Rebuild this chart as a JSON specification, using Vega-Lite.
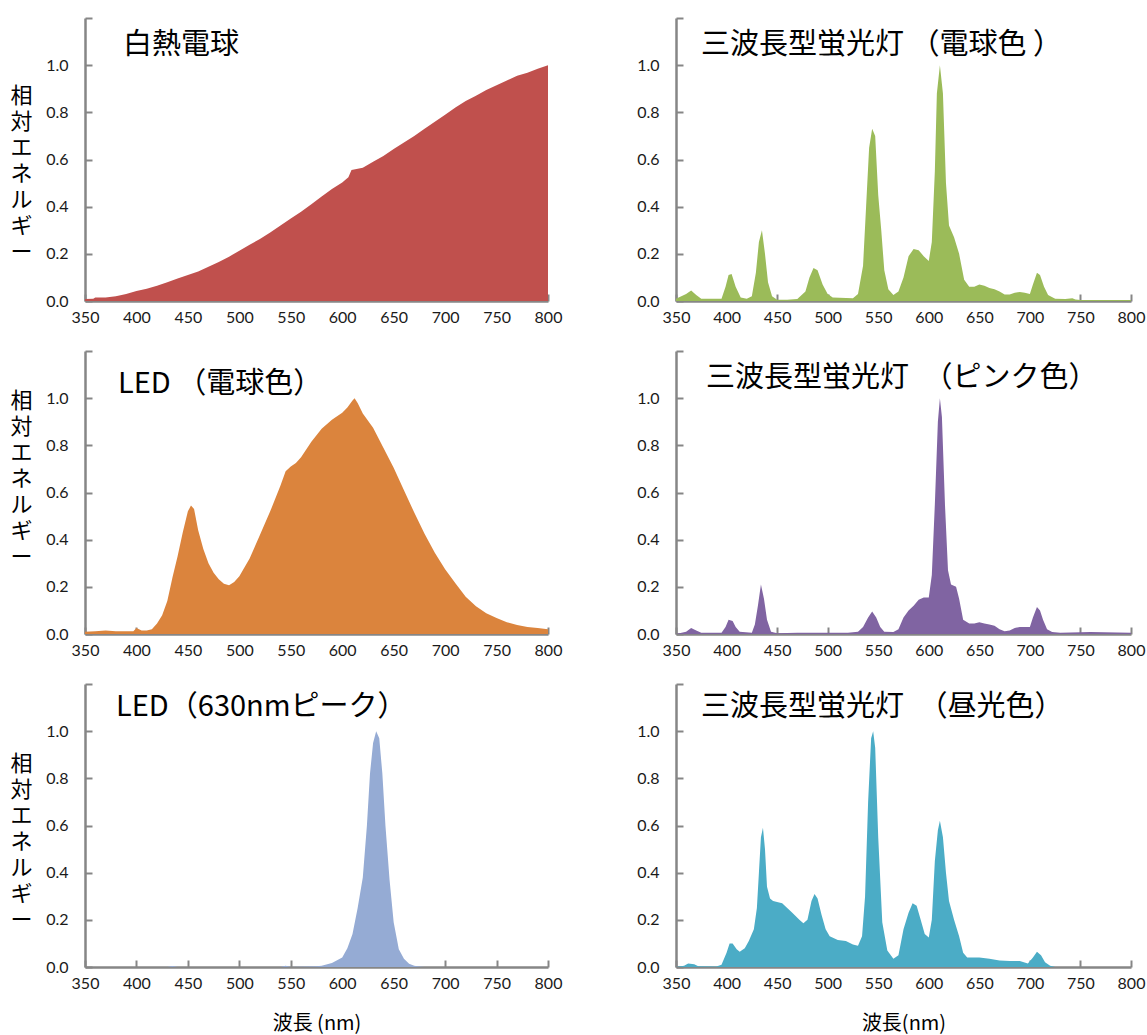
{
  "$schema": "https://vega.github.io/schema/vega-lite/v6.json",
  "padding": {"left": 9, "top": 17, "right": 2, "bottom": 5},
  "background": "white",
  "columns": 2,
  "spacing": {"row": 50, "column": 128},
  "bounds": "flush",
  "config": {
    "view": {"stroke": null},
    "axis": {
      "domainColor": "#868686", "domainWidth": 2.5,
      "tickColor": "#868686", "tickWidth": 2, "tickSize": -7,
      "grid": false, "labelFlush": false,
      "labelFont": "Lato", "labelFontSize": 16, "labelColor": "#1a1a1a",
      "titleFont": "Noto Sans CJK JP", "titleFontWeight": "normal", "titleColor": "#000000", "titleFontSize": 20
    },
    "title": {"font": "Noto Sans CJK JP", "fontWeight": "normal", "fontSize": 29, "color": "#000000", "anchor": "start", "frame": "group", "offset": 0, "baseline": "middle"}
  },
  "datasets": {
    "inc": [
      {"w":350,"v":0.008},{"w":358,"v":0.01},{"w":360,"v":0.015},{"w":370,"v":0.015},{"w":380,"v":0.02},{"w":390,"v":0.03},{"w":400,"v":0.042},{"w":410,"v":0.052},{"w":420,"v":0.065},{"w":430,"v":0.08},{"w":440,"v":0.095},{"w":450,"v":0.11},{"w":460,"v":0.125},{"w":470,"v":0.145},{"w":480,"v":0.165},{"w":490,"v":0.188},{"w":500,"v":0.213},{"w":510,"v":0.238},{"w":520,"v":0.263},{"w":530,"v":0.29},{"w":540,"v":0.32},{"w":550,"v":0.35},{"w":560,"v":0.378},{"w":570,"v":0.41},{"w":580,"v":0.443},{"w":590,"v":0.475},{"w":600,"v":0.503},{"w":606,"v":0.525},{"w":609,"v":0.555},{"w":620,"v":0.565},{"w":630,"v":0.59},{"w":640,"v":0.615},{"w":650,"v":0.645},{"w":660,"v":0.672},{"w":670,"v":0.7},{"w":680,"v":0.73},{"w":690,"v":0.76},{"w":700,"v":0.79},{"w":710,"v":0.82},{"w":720,"v":0.848},{"w":730,"v":0.87},{"w":740,"v":0.895},{"w":750,"v":0.915},{"w":760,"v":0.935},{"w":770,"v":0.955},{"w":780,"v":0.968},{"w":790,"v":0.985},{"w":800,"v":1.0}
    ],
    "fl_bulb": [
      {"w":350,"v":0.01},{"w":360,"v":0.03},{"w":365,"v":0.045},{"w":370,"v":0.025},{"w":375,"v":0.01},{"w":395,"v":0.01},{"w":399,"v":0.06},{"w":402,"v":0.11},{"w":405,"v":0.115},{"w":409,"v":0.06},{"w":414,"v":0.015},{"w":420,"v":0.01},{"w":425,"v":0.02},{"w":429,"v":0.12},{"w":432,"v":0.25},{"w":435,"v":0.3},{"w":438,"v":0.2},{"w":441,"v":0.08},{"w":445,"v":0.02},{"w":450,"v":0.005},{"w":460,"v":0.005},{"w":470,"v":0.008},{"w":478,"v":0.04},{"w":482,"v":0.1},{"w":486,"v":0.14},{"w":490,"v":0.13},{"w":495,"v":0.07},{"w":500,"v":0.03},{"w":505,"v":0.015},{"w":525,"v":0.012},{"w":530,"v":0.03},{"w":535,"v":0.15},{"w":538,"v":0.4},{"w":541,"v":0.65},{"w":544,"v":0.73},{"w":547,"v":0.7},{"w":550,"v":0.45},{"w":553,"v":0.3},{"w":556,"v":0.13},{"w":560,"v":0.05},{"w":565,"v":0.025},{"w":570,"v":0.04},{"w":575,"v":0.1},{"w":580,"v":0.19},{"w":585,"v":0.22},{"w":590,"v":0.215},{"w":595,"v":0.19},{"w":600,"v":0.17},{"w":603,"v":0.25},{"w":606,"v":0.55},{"w":608,"v":0.88},{"w":611,"v":1.0},{"w":614,"v":0.88},{"w":617,"v":0.5},{"w":620,"v":0.32},{"w":625,"v":0.27},{"w":630,"v":0.2},{"w":635,"v":0.09},{"w":640,"v":0.06},{"w":645,"v":0.06},{"w":650,"v":0.07},{"w":655,"v":0.065},{"w":660,"v":0.055},{"w":665,"v":0.05},{"w":670,"v":0.04},{"w":675,"v":0.028},{"w":680,"v":0.028},{"w":685,"v":0.035},{"w":690,"v":0.038},{"w":695,"v":0.035},{"w":700,"v":0.03},{"w":703,"v":0.07},{"w":707,"v":0.12},{"w":710,"v":0.11},{"w":714,"v":0.06},{"w":718,"v":0.025},{"w":725,"v":0.01},{"w":735,"v":0.008},{"w":742,"v":0.012},{"w":745,"v":0.006},{"w":750,"v":0.004},{"w":800,"v":0.004}
    ],
    "led_bulb": [
      {"w":350,"v":0.01},{"w":360,"v":0.012},{"w":370,"v":0.015},{"w":380,"v":0.012},{"w":390,"v":0.012},{"w":397,"v":0.012},{"w":400,"v":0.025},{"w":405,"v":0.015},{"w":410,"v":0.015},{"w":415,"v":0.02},{"w":420,"v":0.045},{"w":425,"v":0.08},{"w":430,"v":0.14},{"w":435,"v":0.24},{"w":440,"v":0.33},{"w":445,"v":0.43},{"w":450,"v":0.52},{"w":453,"v":0.545},{"w":456,"v":0.53},{"w":460,"v":0.44},{"w":465,"v":0.36},{"w":470,"v":0.3},{"w":475,"v":0.26},{"w":480,"v":0.232},{"w":485,"v":0.213},{"w":490,"v":0.207},{"w":495,"v":0.22},{"w":500,"v":0.245},{"w":510,"v":0.32},{"w":520,"v":0.42},{"w":530,"v":0.52},{"w":540,"v":0.63},{"w":545,"v":0.69},{"w":550,"v":0.71},{"w":555,"v":0.725},{"w":560,"v":0.75},{"w":570,"v":0.815},{"w":580,"v":0.87},{"w":590,"v":0.908},{"w":600,"v":0.938},{"w":605,"v":0.96},{"w":610,"v":0.99},{"w":612,"v":1.0},{"w":615,"v":0.98},{"w":620,"v":0.935},{"w":630,"v":0.875},{"w":640,"v":0.79},{"w":650,"v":0.705},{"w":660,"v":0.61},{"w":670,"v":0.515},{"w":680,"v":0.425},{"w":690,"v":0.345},{"w":700,"v":0.275},{"w":710,"v":0.215},{"w":720,"v":0.158},{"w":730,"v":0.118},{"w":740,"v":0.088},{"w":750,"v":0.068},{"w":760,"v":0.05},{"w":770,"v":0.038},{"w":780,"v":0.03},{"w":790,"v":0.025},{"w":800,"v":0.02}
    ],
    "fl_pink": [
      {"w":350,"v":0.0},{"w":360,"v":0.01},{"w":365,"v":0.025},{"w":370,"v":0.015},{"w":375,"v":0.005},{"w":395,"v":0.005},{"w":399,"v":0.03},{"w":402,"v":0.06},{"w":406,"v":0.055},{"w":409,"v":0.03},{"w":413,"v":0.01},{"w":425,"v":0.005},{"w":428,"v":0.04},{"w":431,"v":0.12},{"w":434,"v":0.21},{"w":437,"v":0.15},{"w":440,"v":0.06},{"w":444,"v":0.01},{"w":450,"v":0.003},{"w":470,"v":0.005},{"w":500,"v":0.005},{"w":520,"v":0.005},{"w":530,"v":0.01},{"w":535,"v":0.03},{"w":540,"v":0.07},{"w":544,"v":0.095},{"w":548,"v":0.07},{"w":552,"v":0.03},{"w":556,"v":0.01},{"w":565,"v":0.008},{"w":570,"v":0.02},{"w":575,"v":0.07},{"w":580,"v":0.1},{"w":585,"v":0.12},{"w":590,"v":0.145},{"w":595,"v":0.155},{"w":600,"v":0.155},{"w":603,"v":0.25},{"w":606,"v":0.55},{"w":609,"v":0.9},{"w":611,"v":1.0},{"w":613,"v":0.92},{"w":616,"v":0.55},{"w":619,"v":0.27},{"w":622,"v":0.21},{"w":627,"v":0.2},{"w":630,"v":0.15},{"w":634,"v":0.06},{"w":640,"v":0.045},{"w":645,"v":0.045},{"w":650,"v":0.05},{"w":655,"v":0.045},{"w":660,"v":0.04},{"w":665,"v":0.035},{"w":670,"v":0.02},{"w":675,"v":0.012},{"w":680,"v":0.015},{"w":685,"v":0.025},{"w":690,"v":0.03},{"w":695,"v":0.03},{"w":700,"v":0.03},{"w":703,"v":0.07},{"w":707,"v":0.115},{"w":710,"v":0.1},{"w":713,"v":0.06},{"w":717,"v":0.02},{"w":722,"v":0.008},{"w":730,"v":0.005},{"w":760,"v":0.008},{"w":800,"v":0.005}
    ],
    "led_630": [
      {"w":350,"v":0.0},{"w":430,"v":0.0},{"w":435,"v":0.004},{"w":440,"v":0.0},{"w":540,"v":0.0},{"w":545,"v":0.005},{"w":550,"v":0.0},{"w":575,"v":0.003},{"w":580,"v":0.005},{"w":590,"v":0.017},{"w":600,"v":0.04},{"w":605,"v":0.08},{"w":610,"v":0.14},{"w":615,"v":0.25},{"w":620,"v":0.38},{"w":624,"v":0.6},{"w":627,"v":0.82},{"w":630,"v":0.95},{"w":633,"v":1.0},{"w":636,"v":0.97},{"w":639,"v":0.82},{"w":642,"v":0.6},{"w":646,"v":0.37},{"w":650,"v":0.19},{"w":655,"v":0.075},{"w":660,"v":0.035},{"w":665,"v":0.014},{"w":670,"v":0.005},{"w":675,"v":0.002},{"w":680,"v":0.0},{"w":800,"v":0.0}
    ],
    "fl_day": [
      {"w":350,"v":0.0},{"w":358,"v":0.005},{"w":362,"v":0.015},{"w":368,"v":0.012},{"w":372,"v":0.003},{"w":390,"v":0.002},{"w":395,"v":0.01},{"w":400,"v":0.06},{"w":403,"v":0.1},{"w":406,"v":0.1},{"w":410,"v":0.075},{"w":413,"v":0.065},{"w":418,"v":0.08},{"w":422,"v":0.11},{"w":427,"v":0.16},{"w":430,"v":0.25},{"w":432,"v":0.4},{"w":434,"v":0.55},{"w":436,"v":0.59},{"w":438,"v":0.5},{"w":440,"v":0.34},{"w":443,"v":0.29},{"w":446,"v":0.28},{"w":455,"v":0.27},{"w":465,"v":0.23},{"w":472,"v":0.2},{"w":476,"v":0.185},{"w":480,"v":0.2},{"w":484,"v":0.28},{"w":487,"v":0.31},{"w":490,"v":0.29},{"w":494,"v":0.22},{"w":498,"v":0.16},{"w":502,"v":0.13},{"w":510,"v":0.115},{"w":518,"v":0.11},{"w":525,"v":0.095},{"w":530,"v":0.09},{"w":534,"v":0.13},{"w":537,"v":0.3},{"w":540,"v":0.7},{"w":543,"v":0.97},{"w":545,"v":1.0},{"w":547,"v":0.93},{"w":550,"v":0.55},{"w":554,"v":0.19},{"w":559,"v":0.07},{"w":565,"v":0.035},{"w":570,"v":0.05},{"w":575,"v":0.16},{"w":580,"v":0.23},{"w":584,"v":0.27},{"w":588,"v":0.26},{"w":592,"v":0.2},{"w":596,"v":0.14},{"w":600,"v":0.125},{"w":603,"v":0.2},{"w":606,"v":0.45},{"w":609,"v":0.58},{"w":611,"v":0.62},{"w":614,"v":0.55},{"w":617,"v":0.4},{"w":620,"v":0.28},{"w":625,"v":0.2},{"w":630,"v":0.13},{"w":634,"v":0.06},{"w":638,"v":0.04},{"w":650,"v":0.04},{"w":660,"v":0.035},{"w":670,"v":0.028},{"w":680,"v":0.025},{"w":690,"v":0.025},{"w":698,"v":0.015},{"w":703,"v":0.04},{"w":707,"v":0.065},{"w":711,"v":0.05},{"w":715,"v":0.02},{"w":720,"v":0.005},{"w":725,"v":0.0},{"w":800,"v":0.0}
    ]
  },
  "concat": [
    {
      "width": 463, "height": 283,
      "data": {"name": "inc"},
      "title": {"text": "白熱電球", "dx": 38, "dy": 47},
      "mark": {"type": "area", "color": "#C0504D"},
      "encoding": {
        "x": {"field": "w", "type": "quantitative", "scale": {"domain": [350, 800], "nice": false, "zero": false}, "axis": {"values": [350,400,450,500,550,600,650,700,750,800], "title": null, "labelPadding": 15}},
        "y": {"field": "v", "type": "quantitative", "scale": {"domain": [0, 1.2], "nice": false}, "axis": {"values": [0,0.2,0.4,0.6,0.8,1.0,1.2], "labelExpr": "datum.value > 1.1 ? '' : format(datum.value, '.1f')", "labelPadding": 24, "title": ["相","対","エ","ネ","ル","ギ","ー"], "titleAngle": 0, "titleAlign": "center", "titleBaseline": "middle", "titleFontSize": 22, "titleLineHeight": 26, "titleX": -64, "titleY": 77}}
      }
    },
    {
      "width": 455, "height": 283,
      "data": {"name": "fl_bulb"},
      "title": {"text": "三波長型蛍光灯 （電球色 ）", "dx": 25, "dy": 47},
      "mark": {"type": "area", "color": "#9BBB59"},
      "encoding": {
        "x": {"field": "w", "type": "quantitative", "scale": {"domain": [350, 800], "nice": false, "zero": false}, "axis": {"values": [350,400,450,500,550,600,650,700,750,800], "title": null, "labelPadding": 15}},
        "y": {"field": "v", "type": "quantitative", "scale": {"domain": [0, 1.2], "nice": false}, "axis": {"values": [0,0.2,0.4,0.6,0.8,1.0,1.2], "labelExpr": "datum.value > 1.1 ? '' : format(datum.value, '.1f')", "labelPadding": 24, "title": null}}
      }
    },
    {
      "width": 463, "height": 283,
      "data": {"name": "led_bulb"},
      "title": {"text": "LED （電球色）", "dx": 33, "dy": 53},
      "mark": {"type": "area", "color": "#DB843D"},
      "encoding": {
        "x": {"field": "w", "type": "quantitative", "scale": {"domain": [350, 800], "nice": false, "zero": false}, "axis": {"values": [350,400,450,500,550,600,650,700,750,800], "title": null, "labelPadding": 15}},
        "y": {"field": "v", "type": "quantitative", "scale": {"domain": [0, 1.2], "nice": false}, "axis": {"values": [0,0.2,0.4,0.6,0.8,1.0,1.2], "labelExpr": "datum.value > 1.1 ? '' : format(datum.value, '.1f')", "labelPadding": 24, "title": ["相","対","エ","ネ","ル","ギ","ー"], "titleAngle": 0, "titleAlign": "center", "titleBaseline": "middle", "titleFontSize": 22, "titleLineHeight": 26, "titleX": -64, "titleY": 49}}
      }
    },
    {
      "width": 455, "height": 283,
      "data": {"name": "fl_pink"},
      "title": {"text": "三波長型蛍光灯　（ピンク色）", "dx": 30, "dy": 47},
      "mark": {"type": "area", "color": "#8064A2"},
      "encoding": {
        "x": {"field": "w", "type": "quantitative", "scale": {"domain": [350, 800], "nice": false, "zero": false}, "axis": {"values": [350,400,450,500,550,600,650,700,750,800], "title": null, "labelPadding": 15}},
        "y": {"field": "v", "type": "quantitative", "scale": {"domain": [0, 1.2], "nice": false}, "axis": {"values": [0,0.2,0.4,0.6,0.8,1.0,1.2], "labelExpr": "datum.value > 1.1 ? '' : format(datum.value, '.1f')", "labelPadding": 24, "title": null}}
      }
    },
    {
      "width": 463, "height": 283,
      "data": {"name": "led_630"},
      "title": {"text": "LED（630nmピーク）", "dx": 31, "dy": 43},
      "mark": {"type": "area", "color": "#95ABD4"},
      "encoding": {
        "x": {"field": "w", "type": "quantitative", "scale": {"domain": [350, 800], "nice": false, "zero": false}, "axis": {"values": [350,400,450,500,550,600,650,700,750,800], "title": "波長 (nm)", "labelPadding": 15, "titlePadding": 22}},
        "y": {"field": "v", "type": "quantitative", "scale": {"domain": [0, 1.2], "nice": false}, "axis": {"values": [0,0.2,0.4,0.6,0.8,1.0,1.2], "labelExpr": "datum.value > 1.1 ? '' : format(datum.value, '.1f')", "labelPadding": 24, "title": ["相","対","エ","ネ","ル","ギ","ー"], "titleAngle": 0, "titleAlign": "center", "titleBaseline": "middle", "titleFontSize": 22, "titleLineHeight": 26, "titleX": -64, "titleY": 79}}
      }
    },
    {
      "width": 455, "height": 283,
      "data": {"name": "fl_day"},
      "title": {"text": "三波長型蛍光灯　（昼光色）", "dx": 25, "dy": 43},
      "mark": {"type": "area", "color": "#4BACC6"},
      "encoding": {
        "x": {"field": "w", "type": "quantitative", "scale": {"domain": [350, 800], "nice": false, "zero": false}, "axis": {"values": [350,400,450,500,550,600,650,700,750,800], "title": "波長(nm)", "labelPadding": 15, "titlePadding": 22}},
        "y": {"field": "v", "type": "quantitative", "scale": {"domain": [0, 1.2], "nice": false}, "axis": {"values": [0,0.2,0.4,0.6,0.8,1.0,1.2], "labelExpr": "datum.value > 1.1 ? '' : format(datum.value, '.1f')", "labelPadding": 24, "title": null}}
      }
    }
  ]
}
